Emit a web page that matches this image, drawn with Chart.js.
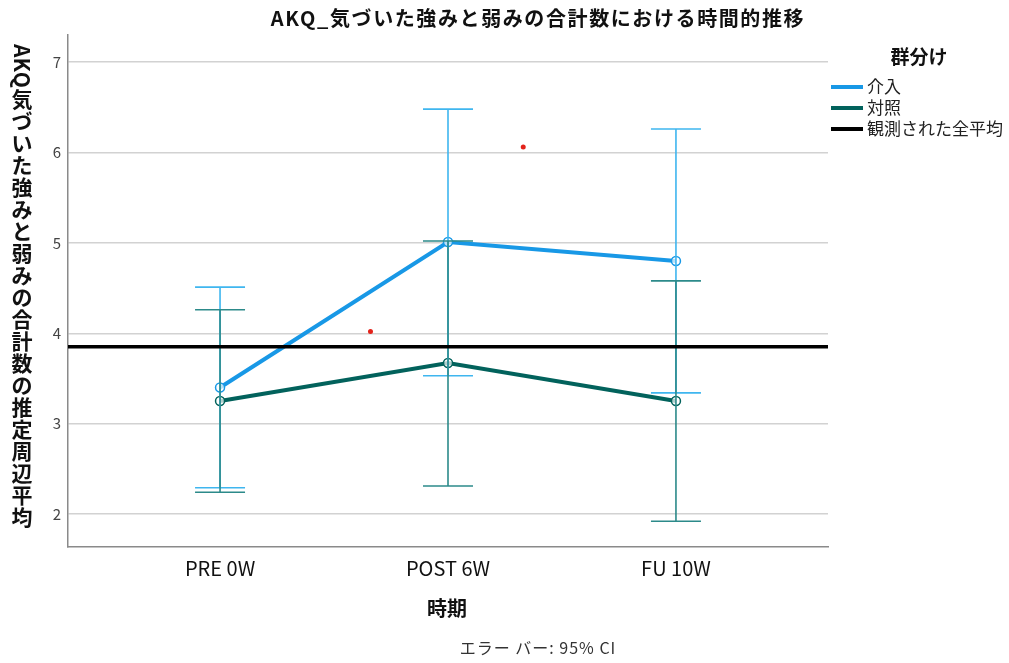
<!DOCTYPE html>
<html>
<head>
<meta charset="utf-8">
<script src="https://cdn.jsdelivr.net/npm/chart.js@4/dist/chart.umd.min.js"></script>
<style>
  html, body { margin: 0; padding: 0; background: #ffffff; }
  #wrap { width: 1009px; height: 663px; }
</style>
</head>
<body>
<div id="wrap"><canvas id="c" width="1009" height="663"></canvas></div>
<script>
// Time points and group estimates (estimated marginal means with 95% CI)
const categories = ['PRE 0W', 'POST 6W', 'FU 10W'];
const seriesNames = ['介入', '対照', '観測された全平均'];
const interventionMean  = [3.40, 5.01, 4.80];
const interventionLower = [2.29, 3.53, 3.34];
const interventionUpper = [4.51, 6.48, 6.26];
const controlMean  = [3.25, 3.67, 3.25];
const controlLower = [2.24, 2.31, 1.92];
const controlUpper = [4.26, 5.02, 4.58];
const grandMean = 3.85;
const yTicks = [2, 3, 4, 5, 6, 7];
const strayX = [0.66, 1.33];
const strayY = [4.02, 6.06];

const FONT = '"Noto Sans CJK JP", "Noto Sans", sans-serif';
const X_MIN = -0.667, X_MAX = 2.667;
const COLORS = {
  intervention: '#1898e6',
  interventionBar: '#3fb6ef',
  control: '#02625c',
  controlBar: '#2c8a8a',
  mean: '#000000',
  stray: '#e3231b'
};

const toPoints = (vals) => vals.map((v, i) => ({ x: i, y: v }));

// Vertical (tategaki-style) axis title: Latin letters turned sideways, kana/kanji upright
function drawVerticalText(ctx, text, cx, top, size, gap) {
  ctx.save();
  ctx.font = `bold ${size}px ${FONT}`;
  ctx.fillStyle = '#111';
  let y = top;
  for (const ch of text) {
    if (/[\x00-\x7f]/.test(ch)) {
      const w = ctx.measureText(ch).width;
      ctx.save();
      ctx.translate(cx, y);
      ctx.rotate(Math.PI / 2);
      ctx.textAlign = 'left';
      ctx.textBaseline = 'middle';
      ctx.fillText(ch, 0, 0);
      ctx.restore();
      y += w;
    } else {
      ctx.textAlign = 'center';
      ctx.textBaseline = 'top';
      ctx.fillText(ch, cx, y);
      y += size + gap;
    }
  }
  ctx.restore();
}

const errorBars = {
  id: 'errorBars',
  afterDatasetDraw(chart, args) {
    if (args.index !== 0) return;
    const ctx = chart.ctx;
    const xs = chart.scales.x, ys = chart.scales.y;
    const cap = 25;
    const groups = [
      { lo: interventionLower, hi: interventionUpper, color: COLORS.interventionBar },
      { lo: controlLower, hi: controlUpper, color: COLORS.controlBar }
    ];
    ctx.save();
    ctx.lineWidth = 1.6;
    groups.forEach(g => {
      ctx.strokeStyle = g.color;
      categories.forEach((_, i) => {
        const x = xs.getPixelForValue(i);
        const yl = ys.getPixelForValue(g.lo[i]);
        const yh = ys.getPixelForValue(g.hi[i]);
        ctx.beginPath();
        ctx.moveTo(x, yl); ctx.lineTo(x, yh);
        ctx.moveTo(x - cap, yl); ctx.lineTo(x + cap, yl);
        ctx.moveTo(x - cap, yh); ctx.lineTo(x + cap, yh);
        ctx.stroke();
      });
    });
    ctx.restore();
  }
};

const annotations = {
  id: 'annotations',
  afterDraw(chart) {
    const ctx = chart.ctx;
    const area = chart.chartArea;
    ctx.save();
    // Title
    ctx.font = `bold 20px ${FONT}`;
    ctx.fillStyle = '#111';
    ctx.textAlign = 'center';
    ctx.textBaseline = 'middle';
    ctx.letterSpacing = '1.6px';
    ctx.fillText('AKQ_気づいた強みと弱みの合計数における時間的推移', 538, 18);
    ctx.letterSpacing = '0px';

    // X axis title and footer
    ctx.font = `bold 20px ${FONT}`;
    ctx.fillText('時期', (area.left + area.right) / 2 - 1, 608);
    ctx.font = `16px ${FONT}`;
    ctx.fillStyle = '#333';
    ctx.letterSpacing = '1px';
    ctx.fillText('エラー バー: 95% CI', 538, 648);
    ctx.letterSpacing = '0px';
    ctx.restore();

    // Y axis title
    drawVerticalText(ctx, 'AKQ気づいた強みと弱みの合計数の推定周辺平均', 22, 44, 21, 1);

    // Legend
    ctx.save();
    ctx.font = `bold 19px ${FONT}`;
    ctx.fillStyle = '#111';
    ctx.textAlign = 'center';
    ctx.textBaseline = 'middle';
    ctx.fillText('群分け', 919, 57);
    ctx.font = `17px ${FONT}`;
    ctx.textAlign = 'left';
    const rows = [87, 108, 129];
    chart.data.datasets.slice(0, 3).forEach((ds, i) => {
      ctx.strokeStyle = ds.borderColor;
      ctx.lineWidth = 4;
      ctx.beginPath();
      ctx.moveTo(831, rows[i]);
      ctx.lineTo(863, rows[i]);
      ctx.stroke();
      ctx.fillStyle = '#222';
      ctx.fillText(ds.label, 867, rows[i]);
    });
    ctx.restore();
  }
};

new Chart(document.getElementById('c'), {
  type: 'line',
  data: {
    datasets: [
      {
        label: seriesNames[0],
        data: toPoints(interventionMean),
        borderColor: COLORS.intervention,
        borderWidth: 4,
        pointRadius: 4.5,
        pointBorderWidth: 1.5,
        pointBorderColor: COLORS.intervention,
        pointBackgroundColor: 'rgba(255,255,255,0.7)',
        order: 2
      },
      {
        label: seriesNames[1],
        data: toPoints(controlMean),
        borderColor: COLORS.control,
        borderWidth: 4,
        pointRadius: 4.5,
        pointBorderWidth: 1.5,
        pointBorderColor: COLORS.control,
        pointBackgroundColor: 'rgba(255,255,255,0.7)',
        order: 3
      },
      {
        label: seriesNames[2],
        data: [{ x: X_MIN, y: grandMean }, { x: X_MAX, y: grandMean }],
        borderColor: COLORS.mean,
        borderWidth: 3.5,
        pointRadius: 0,
        order: 1
      },
      {
        label: '',
        data: strayX.map((x, i) => ({ x, y: strayY[i] })),
        showLine: false,
        pointRadius: 2.5,
        pointBorderWidth: 0,
        pointBackgroundColor: COLORS.stray,
        borderColor: COLORS.stray,
        order: 0
      }
    ]
  },
  options: {
    responsive: false,
    animation: false,
    devicePixelRatio: 1,
    layout: { padding: { top: 35, right: 181, left: 0, bottom: 0 } },
    plugins: {
      legend: { display: false },
      title: { display: false },
      tooltip: { enabled: false }
    },
    scales: {
      x: {
        type: 'linear',
        min: X_MIN,
        max: X_MAX,
        afterBuildTicks: (s) => { s.ticks = categories.map((_, i) => ({ value: i })); },
        afterFit: (s) => { s.height = 116; },
        grid: { display: false, drawTicks: false },
        border: { color: '#8a8a8a', width: 1.5 },
        ticks: {
          padding: 9,
          color: '#111',
          font: { family: FONT, size: 20 },
          maxRotation: 0,
          callback: (v) => categories[v] ?? ''
        }
      },
      y: {
        min: 1.635,
        max: 7.3,
        afterBuildTicks: (s) => { s.ticks = yTicks.map(v => ({ value: v })); },
        afterFit: (s) => { s.width = 68; },
        grid: { color: '#d2d2d2', lineWidth: 1.5, drawTicks: false },
        border: { color: '#8a8a8a', width: 1.5 },
        ticks: {
          padding: 7,
          color: '#444',
          font: { family: FONT, size: 15 }
        }
      }
    }
  },
  plugins: [errorBars, annotations]
});
</script>
</body>
</html>
